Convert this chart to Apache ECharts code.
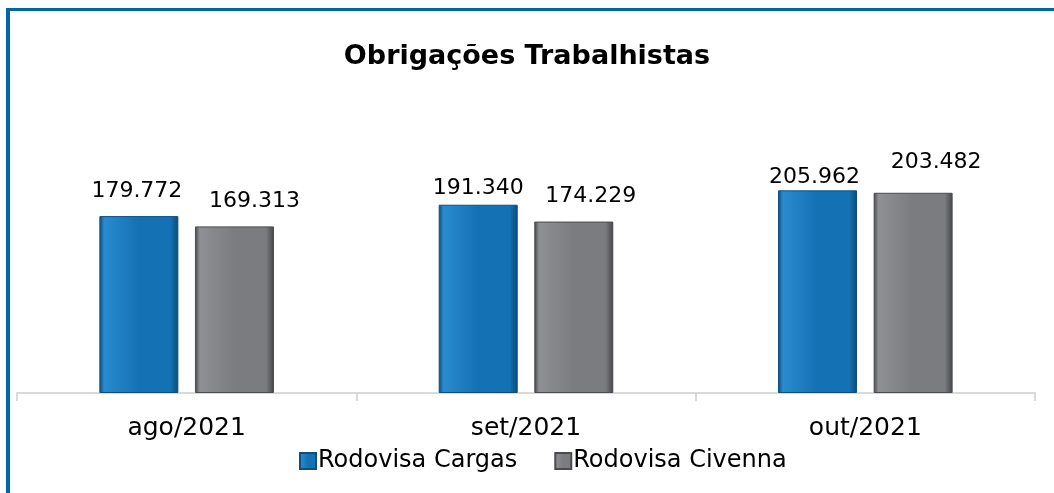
<!DOCTYPE html>
<html>
<head>
<meta charset="utf-8">
<script src="https://cdn.jsdelivr.net/npm/echarts@6/dist/echarts.min.js"></script>
<style>
html,body{margin:0;padding:0;background:#fff;}
#chart{width:1054px;height:493px;}
</style>
</head>
<body>
<div id="chart"></div>
<script>
const categories = ['ago/2021', 'set/2021', 'out/2021'];
const cargas = [179772, 191340, 205962];
const civenna = [169313, 174229, 203482];
const seriesNames = ['Rodovisa Cargas', 'Rodovisa Civenna'];

// manual label nudges as in the original chart (style, not data)
const cargasLabelNudge = [[-2, -1], [0, 8], [-3, 11]];
const civennaLabelNudge = [[20, -1], [17, -1], [23, -6]];

function fmt(v) {
  return String(v).replace(/\B(?=(\d{3})+(?!\d))/g, '.');
}
function grad(edge, mid, light) {
  return new echarts.graphic.LinearGradient(0, 0, 1, 0, [
    {offset: 0, color: edge},
    {offset: 0.06, color: light},
    {offset: 0.5, color: mid},
    {offset: 0.9, color: mid},
    {offset: 1, color: edge}
  ]);
}
function items(values, nudges) {
  return values.map((v, i) => ({value: v, label: {offset: nudges[i]}}));
}
const chart = echarts.init(document.getElementById('chart'));
const labelFont = 'DejaVu Sans';
const labelStyle = {show: true, position: 'top', distance: 13, formatter: p => fmt(p.value), fontFamily: labelFont, fontSize: 22, color: '#000'};
chart.setOption({
  animation: false,
  title: {
    text: 'Obrigações Trabalhistas',
    left: 'center',
    top: 38,
    textStyle: {fontFamily: 'DejaVu Sans', fontWeight: 'bold', fontSize: 27, color: '#000'}
  },
  legend: {
    bottom: 15,
    left: 294,
    itemWidth: 16,
    itemHeight: 16,
    itemGap: 37,
    icon: 'rect',
    textStyle: {fontFamily: labelFont, fontSize: 24, color: '#000', padding: [0,0,0,-3]},
    data: seriesNames
  },
  grid: {left: 17, right: 19, top: 147, bottom: 100},
  xAxis: {
    type: 'category',
    data: categories,
    axisLine: {lineStyle: {color: '#d9d9d9', width: 2}},
    axisTick: {show: true, length: 8, lineStyle: {color: '#d9d9d9', width: 2}},
    axisLabel: {fontFamily: labelFont, fontSize: 25, color: '#000', margin: 23}
  },
  yAxis: {
    type: 'value', min: 0, max: 250000, show: false,
    splitLine: {show: false}
  },
  series: [
    {
      name: seriesNames[0], type: 'bar', data: items(cargas, cargasLabelNudge), barWidth: 79, barGap: '21%',
      itemStyle: {color: grad('#0b4a78', '#1471b3', '#2a8bd0'), borderColor: '#0e4f80', borderWidth: 1},
      label: labelStyle
    },
    {
      name: seriesNames[1], type: 'bar', data: items(civenna, civennaLabelNudge), barWidth: 79,
      itemStyle: {color: grad('#45464a', '#7a7c80', '#8e9094'), borderColor: '#4a4b4f', borderWidth: 1},
      label: labelStyle
    }
  ],
  graphic: [
    {type: 'rect', shape: {x: 6, y: 8, width: 4, height: 485}, style: {fill: '#0066a6'}},
    {type: 'rect', shape: {x: 6, y: 8, width: 1048, height: 3}, style: {fill: '#0066a6'}}
  ]
});
</script>
</body>
</html>
